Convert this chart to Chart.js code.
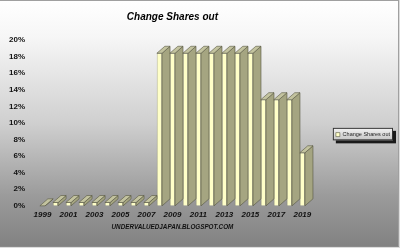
<!DOCTYPE html>
<html>
<head>
<meta charset="utf-8">
<script src="https://cdn.jsdelivr.net/npm/chart.js@4"></script>
<style>
  html, body { margin: 0; padding: 0; background: #dcdcdc; }
  #marco {
    position: absolute; left: 0; top: 0; width: 398px; height: 245px;
    border-top: 1px solid #a0a0a0; border-right: 1px solid #a0a0a0; border-bottom: 1px solid #8a8a8a;
    background: linear-gradient(#ffffff 0%, #f6f6f6 15%, #cfcfcf 50%, #9a9a9a 80%, #828282 100%);
  }
  #lienzo { position: absolute; left: 0; top: 0; }
</style>
</head>
<body>
<div id="marco"></div>
<canvas id="lienzo" width="400" height="248"></canvas>
<script>
'use strict'

// datos
let anios = ['1999','2000','2001','2002','2003','2004','2005','2006','2007','2008',
             '2009','2010','2011','2012','2013','2014','2015','2016','2017','2018','2019'];
let cambioAcciones = [0, 0.4, 0.4, 0.4, 0.4, 0.4, 0.4, 0.4, 0.4, 18.4,
                      18.4, 18.4, 18.4, 18.4, 18.4, 18.4, 18.4, 12.8, 12.8, 12.8, 6.4];
let ticksY = [0, 2, 4, 6, 8, 10, 12, 14, 16, 18, 20];

let fuente = 'Liberation Sans, Arial, sans-serif';

// caras laterales y superiores de las barras (efecto 3D tipo Excel)
let barras3d = {
    id: 'barras3d',
    afterDatasetsDraw(chart){
        const ctx = chart.ctx;
        const meta = chart.getDatasetMeta(0);
        const dx = 8, dy = 7;
        ctx.save();
        ctx.lineWidth = 0.6;
        ctx.strokeStyle = '#55553f';
        meta.data.forEach(function(bar){
            const p = bar.getProps(['x','y','base','width'], true);
            const izq = p.x - p.width/2, der = p.x + p.width/2;
            // lateral
            ctx.beginPath();
            ctx.moveTo(der, p.y);
            ctx.lineTo(der + dx, p.y - dy);
            ctx.lineTo(der + dx, p.base - dy);
            ctx.lineTo(der, p.base);
            ctx.closePath();
            ctx.fillStyle = '#a5a581';
            ctx.fill();
            ctx.stroke();
            // tapa
            ctx.beginPath();
            ctx.moveTo(izq, p.y);
            ctx.lineTo(izq + dx, p.y - dy);
            ctx.lineTo(der + dx, p.y - dy);
            ctx.lineTo(der, p.y);
            ctx.closePath();
            ctx.fillStyle = '#c3c39f';
            ctx.fill();
            ctx.stroke();
        });
        ctx.restore();
    }
};

// recuadro de la leyenda con sombra
let marcoLeyenda = {
    id: 'marcoLeyenda',
    beforeDraw(chart){
        const lg = chart.legend;
        if (!lg || !lg.legendHitBoxes || !lg.legendHitBoxes.length) return;
        const hb = lg.legendHitBoxes[0];
        const ctx = chart.ctx;
        const x = hb.left - 3, y = hb.top - 4, w = hb.width + 6, h = hb.height + 7;
        ctx.save();
        ctx.fillStyle = '#1a1a1a';
        ctx.fillRect(x + 3, y + 3, w, h);
        const g = ctx.createLinearGradient(0, y, 0, y + h);
        g.addColorStop(0, '#f4f4f4');
        g.addColorStop(1, '#c4c4c4');
        ctx.fillStyle = g;
        ctx.fillRect(x, y, w, h);
        ctx.strokeStyle = '#333';
        ctx.lineWidth = 1;
        ctx.strokeRect(x + 0.5, y + 0.5, w - 1, h - 1);
        ctx.restore();
    }
};

function graficar(){
    const ctx = document.getElementById('lienzo').getContext('2d');
    const grafica = new Chart(ctx, {
        type: 'bar',
        data: {
            labels: anios,
            datasets: [{
                label: 'Change Shares out',
                data: cambioAcciones,
                backgroundColor: '#ffffc8',
                borderColor: '#55553f',
                borderWidth: 0.6,
                barPercentage: 0.4,
                categoryPercentage: 1
            }]
        },
        options: {
            responsive: false,
            animation: false,
            events: [],
            layout: {
                padding: { left: 0, right: 0, top: 0, bottom: 17 }
            },
            plugins: {
                title: {
                    display: true,
                    text: 'Change Shares out',
                    fullSize: false,
                    color: '#000',
                    font: { family: fuente, size: 10, weight: 'bold', style: 'italic' },
                    padding: { top: 11, bottom: 17 }
                },
                legend: {
                    position: 'right',
                    title: { display: true, text: ' ', font: { size: 1 }, padding: { top: 0, bottom: 37 } },
                    labels: {
                        boxWidth: 4,
                        boxHeight: 4,
                        padding: 27,
                        color: '#222',
                        font: { family: fuente, size: 5.5 }
                    }
                },
                tooltip: { enabled: false }
            },
            scales: {
                x: {
                    grid: { display: false, drawTicks: false },
                    border: { display: false },
                    ticks: {
                        autoSkip: false,
                        maxRotation: 0,
                        padding: 4,
                        color: '#111',
                        font: { family: fuente, size: 8, weight: 'bold', style: 'italic' },
                        callback: function(v, i){ return i % 2 === 0 ? anios[i] : ''; }
                    },
                    title: {
                        display: true,
                        text: 'UNDERVALUEDJAPAN.BLOGSPOT.COM',
                        color: '#111',
                        font: { family: fuente, size: 6.3, weight: 'bold', style: 'italic' },
                        padding: { top: 0, bottom: 0 }
                    }
                },
                y: {
                    min: 0,
                    max: 20,
                    afterBuildTicks: function(s){ s.ticks = ticksY.map(function(v){ return { value: v }; }); },
                    afterFit: function(s){ s.width = 36; },
                    grid: { display: false, drawTicks: false },
                    border: { display: false },
                    ticks: {
                        padding: 11,
                        color: '#111',
                        font: { family: fuente, size: 8, weight: 'bold' },
                        callback: function(v){ return v + '%'; }
                    }
                }
            }
        },
        plugins: [marcoLeyenda, barras3d]
    });
    console.log(grafica.chartArea, grafica.legend.legendHitBoxes);
}

graficar();
</script>
</body>
</html>
